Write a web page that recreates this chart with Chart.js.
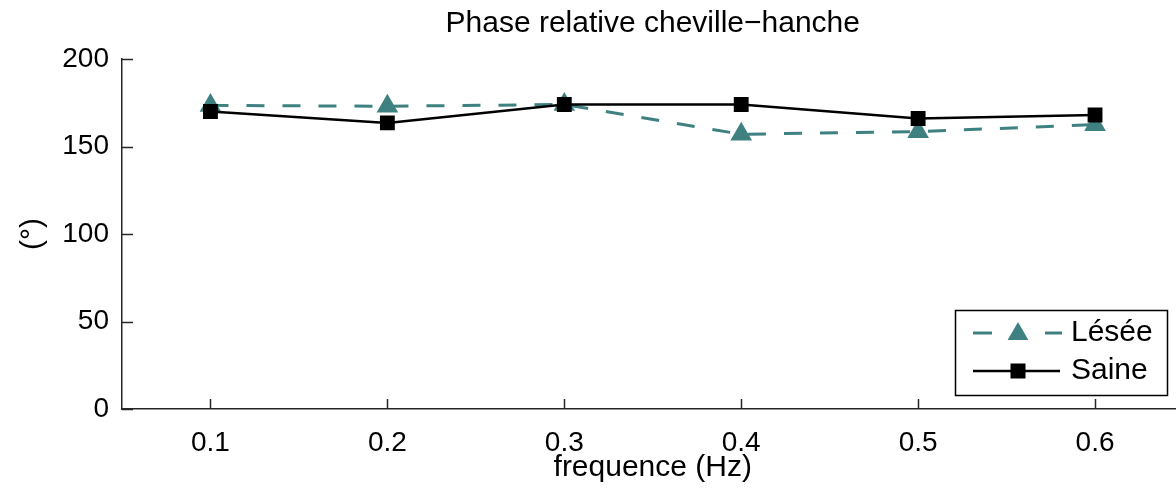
<!DOCTYPE html>
<html><head><meta charset="utf-8">
<script src="https://cdn.jsdelivr.net/npm/chart.js"></script>
<style>html,body{margin:0;padding:0;overflow:hidden;background:#fff;width:1176px;height:490px}canvas{display:block}</style>
</head><body>
<canvas id="c" width="1196" height="490"></canvas>
<script>
const frequencies = [0.1, 0.2, 0.3, 0.4, 0.5, 0.6];
const lesee = [173.5, 173, 174, 157, 158.5, 162.5];
const saine = [170, 163.5, 174, 174, 166, 168];
const xTickValues = [0.1, 0.2, 0.3, 0.4, 0.5, 0.6];
const yTickValues = [0, 50, 100, 150, 200];
const seriesNames = ['Lésée', 'Saine'];
const titleText = 'Phase relative cheville\u2212hanche';
const xLabel = 'frequence (Hz)';
const yLabel = '(\u00b0)';

const TEAL = '#3f8181';
const AXIS = '#262626';
const FONT = "'Liberation Sans', Arial, Helvetica, sans-serif";
const FS_TICK = 28;
const FS_LABEL = 30;

Chart.defaults.font.family = FONT;
Chart.defaults.color = '#000';

function drawTri(ctx, x, y, r) {
  ctx.beginPath();
  ctx.moveTo(x, y - r);
  ctx.lineTo(x + r * Math.sin(Math.PI / 3), y + r / 2);
  ctx.lineTo(x - r * Math.sin(Math.PI / 3), y + r / 2);
  ctx.closePath();
  ctx.fill();
}

const innerTicks = {
  id: 'innerTicks',
  beforeDatasetsDraw(chart) {
    const {ctx, scales: {x, y}, chartArea} = chart;
    ctx.save();
    ctx.strokeStyle = AXIS;
    ctx.lineWidth = 1.5;
    x.ticks.forEach(t => {
      const px = Math.round(x.getPixelForValue(t.value)) + 0.5;
      ctx.beginPath(); ctx.moveTo(px, chartArea.bottom); ctx.lineTo(px, chartArea.bottom - 10); ctx.stroke();
    });
    y.ticks.forEach(t => {
      const py = Math.round(y.getPixelForValue(t.value)) + 0.5;
      ctx.beginPath(); ctx.moveTo(chartArea.left, py); ctx.lineTo(chartArea.left + 11, py); ctx.stroke();
    });
    ctx.restore();
  }
};

const boxLegend = {
  id: 'boxLegend',
  afterDraw(chart) {
    const ctx = chart.ctx;
    ctx.save();
    const bx = 955.5, by = 310.5, bw = 212, bh = 85;
    ctx.fillStyle = '#fff';
    ctx.fillRect(bx, by, bw, bh);
    ctx.strokeStyle = '#000';
    ctx.lineWidth = 1.5;
    ctx.strokeRect(bx, by, bw, bh);
    const r1 = 333, r2 = 371;
    ctx.strokeStyle = TEAL; ctx.lineWidth = 3;
    ctx.beginPath(); ctx.moveTo(973, r1); ctx.lineTo(992, r1); ctx.moveTo(1045, r1); ctx.lineTo(1062, r1); ctx.stroke();
    ctx.fillStyle = TEAL; drawTri(ctx, 1018, r1 + 1, 12);
    ctx.strokeStyle = '#000'; ctx.lineWidth = 2.5;
    ctx.beginPath(); ctx.moveTo(973, r2); ctx.lineTo(1060, r2); ctx.stroke();
    ctx.fillStyle = '#000'; ctx.fillRect(1018 - 7.5, r2 - 7.5, 15, 15);
    ctx.font = FS_LABEL + 'px ' + FONT;
    ctx.textBaseline = 'middle';
    ctx.textAlign = 'left';
    ctx.fillText(seriesNames[0], 1071, r1);
    ctx.fillText(seriesNames[1], 1071, r2);
    ctx.restore();
  }
};

new Chart(document.getElementById('c'), {
  type: 'line',
  data: {
    datasets: [
      {
        label: seriesNames[0],
        data: frequencies.map((f, i) => ({x: f, y: lesee[i]})),
        borderColor: TEAL, backgroundColor: TEAL,
        borderWidth: 3, borderDash: [18, 18],
        pointStyle: 'triangle', pointRadius: 12.5, pointBorderWidth: 0,
        pointBackgroundColor: TEAL, order: 1
      },
      {
        label: seriesNames[1],
        data: frequencies.map((f, i) => ({x: f, y: saine[i]})),
        borderColor: '#000', backgroundColor: '#000',
        borderWidth: 2.5,
        pointStyle: 'rect', pointRadius: 10.5, pointBorderWidth: 0,
        pointBackgroundColor: '#000', order: 0
      }
    ]
  },
  options: {
    responsive: false,
    animation: false,
    devicePixelRatio: 1,
    layout: {padding: {left: 0, right: 0, top: 0, bottom: 0}},
    plugins: {
      legend: {display: false},
      tooltip: {enabled: false},
      title: {
        display: true, text: titleText, color: '#000', fullSize: false,
        font: {size: FS_LABEL, weight: 'normal', lineHeight: 1.2},
        padding: {top: 5.9, bottom: 17.1}
      }
    },
    scales: {
      x: {
        type: 'linear', min: 0.05, max: 0.65,
        afterBuildTicks: s => { s.ticks = xTickValues.map(v => ({value: v})); },
        afterFit: s => { s.height = 81; },
        grid: {display: false, drawTicks: false, tickLength: 0},
        border: {display: true, color: AXIS, width: 1.5},
        ticks: {font: {size: FS_TICK}, color: '#000', padding: 17, maxRotation: 0, autoSkip: false,
          callback: v => v.toFixed(1)},
        title: {display: true, text: xLabel, color: '#000', font: {size: FS_LABEL, lineHeight: 1.2}, padding: {top: 0, bottom: 4.4}}
      },
      y: {
        type: 'linear', min: 0, max: 200,
        afterBuildTicks: s => { s.ticks = yTickValues.map(v => ({value: v})); },
        afterFit: s => { s.width = 122; },
        grid: {display: false, drawTicks: false, tickLength: 0},
        border: {display: true, color: AXIS, width: 1.5},
        ticks: {font: {size: FS_TICK}, color: '#000', padding: 13, autoSkip: false},
        title: {display: true, text: yLabel, color: '#000', font: {size: FS_LABEL, lineHeight: 1.2}, padding: {top: 14.5, bottom: 0}}
      }
    }
  },
  plugins: [innerTicks, boxLegend]
});
</script>
</body></html>
